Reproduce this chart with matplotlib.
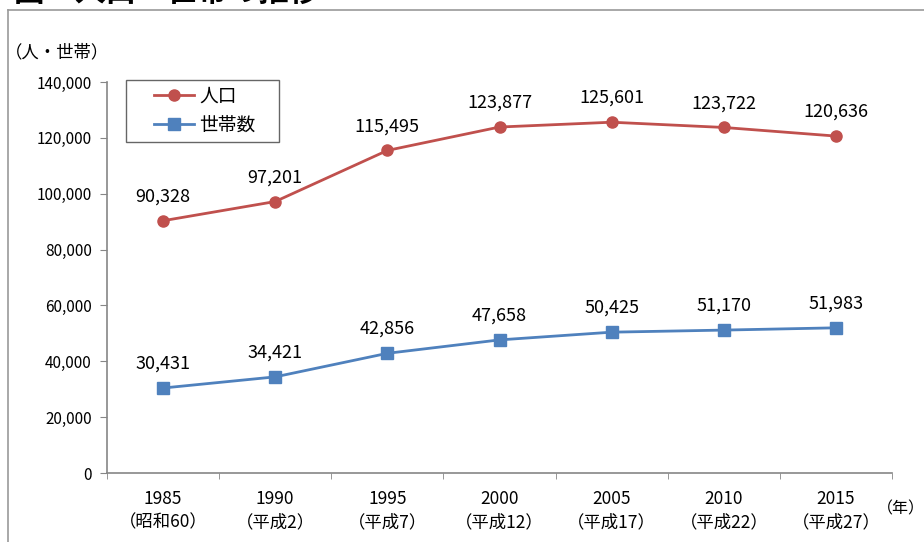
import matplotlib
matplotlib.use("Agg")
import matplotlib.pyplot as plt
from matplotlib.lines import Line2D
from matplotlib.ticker import FuncFormatter
from matplotlib.legend_handler import HandlerLine2D

plt.rcParams['font.family'] = ['Noto Sans CJK JP', 'DejaVu Sans']

years = ["1985", "1990", "1995", "2000", "2005", "2010", "2015"]
eras = ["（昭和60）", "（平成2）", "（平成7）", "（平成12）", "（平成17）", "（平成22）", "（平成27）"]
population = [90328, 97201, 115495, 123877, 125601, 123722, 120636]
households = [30431, 34421, 42856, 47658, 50425, 51170, 51983]

RED = "#C0504D"
BLUE = "#4F81BD"
AXC = "#868686"

W, H = 924, 542
fig = plt.figure(figsize=(W / 100, H / 100), dpi=100)
ax = fig.add_axes([107 / W, 1 - 473 / H, (892 - 107) / W, (473 - 82) / H])

x = list(range(len(years)))
ax.plot(x, population, color=RED, lw=2.0, marker='o', ms=8, mfc=RED, mec=RED, label="人口")
ax.plot(x, households, color=BLUE, lw=2.0, marker='s', ms=8, mfc=BLUE, mec=BLUE, label="世帯数")

for xi, v in zip(x, population):
    ax.annotate(f"{v:,}", (xi, v), xytext=(0, 17.5), textcoords='offset points',
                ha='center', va='center', fontsize=13)
for xi, v in zip(x, households):
    ax.annotate(f"{v:,}", (xi, v), xytext=(0, 17.5), textcoords='offset points',
                ha='center', va='center', fontsize=13)

ax.set_xlim(-0.5, len(years) - 0.5)
ax.set_ylim(0, 140000)
ax.set_yticks(range(0, 140001, 20000))
ax.yaxis.set_major_formatter(FuncFormatter(lambda v, p: f"{int(v):,}"))
ax.set_xticks(x)
ax.set_xticklabels([f"{y}\n{e}" for y, e in zip(years, eras)], fontsize=12.5, linespacing=1.4)
ax.set_xticks([i - 0.5 for i in range(len(years) + 1)], minor=True)
ax.tick_params(axis='x', which='major', length=0, pad=12)
ax.tick_params(axis='x', which='minor', length=4, direction='out', color=AXC)
ax.tick_params(axis='y', length=5, direction='out', color=AXC, labelsize=11, pad=6)

for s in ['top', 'right']:
    ax.spines[s].set_visible(False)
for s in ['left', 'bottom']:
    ax.spines[s].set_color(AXC)
    ax.spines[s].set_linewidth(1.2)

aw = 892 - 107
ah = 473 - 82
lh = 0.05
leg = ax.legend(loc='upper left',
                bbox_to_anchor=((126 - 107) / aw, 1 + 2 / ah - lh, (279 - 126) / aw, lh),
                mode='expand', fontsize=13.5, frameon=True, fancybox=False, edgecolor='#404040',
                handlelength=3.3, handletextpad=0.3, borderpad=0.3, labelspacing=0.45,
                borderaxespad=0, numpoints=1,
                handler_map={Line2D: HandlerLine2D(xpad=1.2)})
leg.get_frame().set_linewidth(1.0)

fig.text(5 / W, 1 - 52 / H, "（人・世帯）", fontsize=12.5, ha='left', va='center')
fig.text(877 / W, 1 - 509 / H, "（年）", fontsize=11.5, ha='left', va='center')

# outer frame (partially visible)
fig.add_artist(Line2D([8 / W, 1.0], [1 - 10 / H, 1 - 10 / H], color='#9a9a9a', lw=1.2))
fig.add_artist(Line2D([8 / W, 8 / W], [1 - 10 / H, 0], color='#9a9a9a', lw=1.2))

# title, clipped at the top edge
fig.text(14 / W, 1 - 0.5 / H, "図　人口・世帯の推移", fontsize=22, fontweight='bold',
         ha='left', va='baseline')

fig.savefig("out.png", dpi=100)
